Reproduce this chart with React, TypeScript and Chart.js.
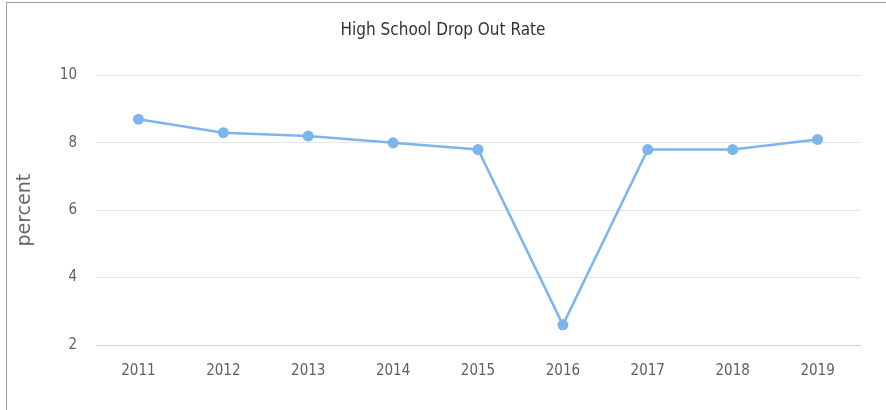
import React, { useEffect, useRef } from "react";
import { Chart, registerables } from "chart.js";

Chart.register(...registerables);

const categories = ["2011", "2012", "2013", "2014", "2015", "2016", "2017", "2018", "2019"];
const dropOutRate = [8.7, 8.3, 8.2, 8.0, 7.8, 2.6, 7.8, 7.8, 8.1];
const yTicks = [2, 4, 6, 8, 10];

const NARROW = '"Liberation Sans Narrow", "DejaVu Sans Condensed", sans-serif';

export default function App() {
  const ref = useRef<HTMLCanvasElement | null>(null);

  useEffect(() => {
    document.body.style.margin = "0";
    const canvas = ref.current;
    if (!canvas) return;
    const chart = new Chart(canvas, {
      type: "line",
      data: {
        labels: categories,
        datasets: [
          {
            label: "Drop Out Rate",
            data: dropOutRate,
            borderColor: "#7cb5ec",
            backgroundColor: "#7cb5ec",
            borderWidth: 2.5,
            pointRadius: 5.5,
            pointBorderWidth: 0,
            pointBackgroundColor: "#7cb5ec",
            tension: 0,
            yAxisID: "y",
          },
        ],
      },
      options: {
        animation: false,
        responsive: false,
        maintainAspectRatio: false,
        layout: { padding: { left: 0, right: 0, top: 0, bottom: 0 } },
        plugins: {
          legend: { display: false },
          tooltip: { enabled: false },
          title: {
            display: true,
            text: "High School Drop Out Rate",
            color: "#333333",
            font: { family: NARROW, size: 17, weight: "normal" },
            padding: { top: 20, bottom: 35 },
          },
        },
        scales: {
          x: {
            offset: true,
            afterFit: (scale: any) => {
              scale.height = 65;
            },
            grid: { display: false, drawTicks: false },
            border: { display: true, color: "#c4d0ea", width: 1, z: 1 },
            ticks: {
              color: "#606060",
              font: { family: NARROW, size: 15 },
              padding: 17,
              maxRotation: 0,
            },
          },
          y: {
            min: 2,
            max: 10,
            afterBuildTicks: (scale: any) => {
              scale.ticks = yTicks.map((v) => ({ value: v }));
            },
            afterFit: (scale: any) => {
              scale.width = 96;
            },
            grid: {
              color: (ctx: any) => (ctx.tick && ctx.tick.value === 2 ? "rgba(0,0,0,0)" : "#e6e6e6"),
              lineWidth: 1,
              drawTicks: false,
            },
            border: { display: false },
            ticks: {
              color: "#606060",
              font: { family: NARROW, size: 15 },
              padding: 19,
            },
            title: {
              display: true,
              text: "percent",
              color: "#666666",
              font: { family: '"DejaVu Sans", sans-serif', size: 19 },
              padding: { top: 14, bottom: 0 },
            },
          },
          yRight: {
            position: "right",
            display: true,
            min: 2,
            max: 10,
            afterFit: (scale: any) => {
              scale.width = 26;
            },
            grid: { display: false, drawTicks: false },
            border: { display: false },
            ticks: { display: false },
          },
        },
      },
    });
    return () => chart.destroy();
  }, []);

  return (
    <div style={{ position: "relative", width: 886, height: 410, background: "#fff", overflow: "hidden" }}>
      <canvas ref={ref} width={886} height={410} style={{ display: "block", width: 886, height: 410 }} />
      <div
        style={{
          position: "absolute",
          left: 6,
          top: 2,
          width: 900,
          height: 420,
          borderLeft: "1px solid #a0a0a0",
          borderTop: "1px solid #a0a0a0",
          pointerEvents: "none",
        }}
      />
    </div>
  );
}
